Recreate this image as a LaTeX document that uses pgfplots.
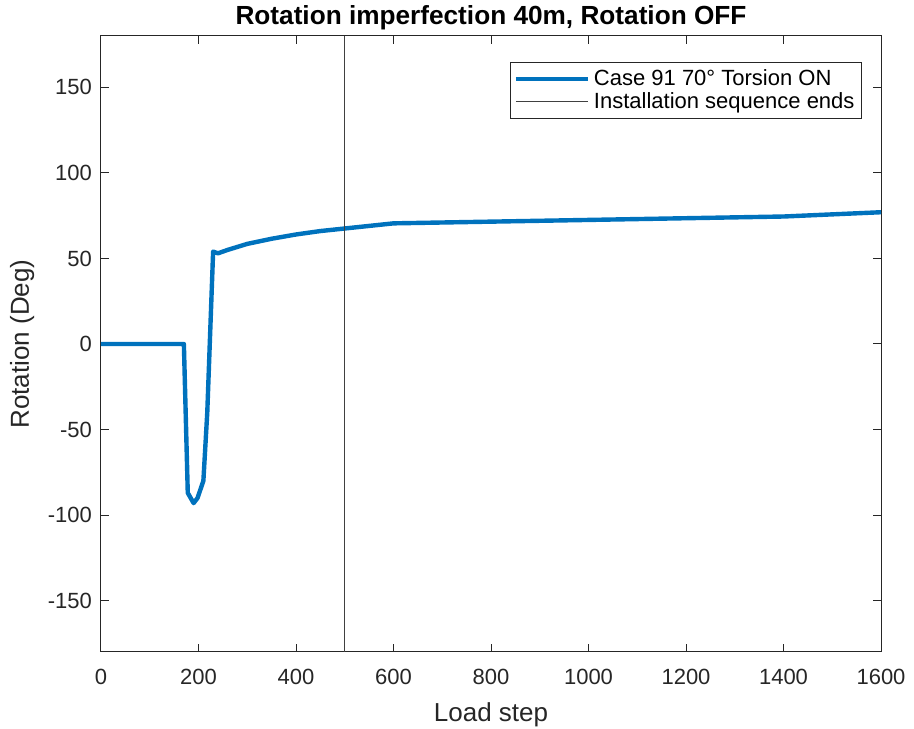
\documentclass[border=0pt]{standalone}
\usepackage{fontspec}
\setmainfont{Liberation Sans}
\usepackage{pgfplots}
\pgfplotsset{compat=1.18}
\definecolor{mblue}{rgb}{0,0.447,0.741}
\definecolor{axgray}{rgb}{0.15,0.15,0.15}

\pgfplotstableread{
x y
0 0
170 0
178 -87
190 -93
198 -90
210 -80
218 -40
230 54
240 53
260 55
300 58.5
350 61.5
400 64
450 66
500 67.5
600 70.5
1000 72.5
1400 74.5
1600 77
}\rotdata

\begin{document}
\begin{tikzpicture}
\begin{axis}[
  scale only axis,
  width=390pt, height=308pt,
  xmin=0, xmax=1600, ymin=-180, ymax=180,
  xtick={0,200,...,1600},
  ytick={-150,-100,...,150},
  tick align=inside,
  major tick length=4pt,
  axis line style={axgray, line width=0.5pt},
  every tick/.style={axgray, line width=0.5pt},
  /pgf/number format/assume math mode=true,
  /pgf/number format/set thousands separator={},
  tick label style={font=\fontsize{11}{13}\selectfont, text=axgray},
  xticklabel style={yshift=-5pt},
  yticklabel style={xshift=-1pt},
  xlabel={Load step},
  ylabel={Rotation (Deg)},
  label style={font=\fontsize{13}{15}\selectfont, text=axgray},
  xlabel style={yshift=-2pt},
  title={Rotation imperfection 40m, Rotation OFF},
  title style={font=\bfseries\fontsize{13.1}{15}\selectfont, at={(0.5,1)}, anchor=base, yshift=-0.5pt},
  legend cell align=left,
  legend style={at={(1,1)}, anchor=north east, xshift=-9.5pt, yshift=-13pt,
    font=\fontsize{11}{13}\selectfont, draw=axgray, line width=0.5pt,
    inner sep=1.5pt, row sep=-2pt},
  legend image code/.code={\draw[#1] (0pt,0pt) -- (36pt,0pt);},
]
\addplot[mblue, line width=2.2pt, line join=round] table[x=x, y=y] {\rotdata};
\addlegendentry{Case 91 70° Torsion ON}
\addplot[black!75, line width=0.5pt] coordinates {(500,-180) (500,180)};
\addlegendentry{Installation sequence ends}
\end{axis}
\pgfresetboundingbox
\path[use as bounding box] ([xshift=-50.5pt,yshift=-38.5pt]current axis.south west) rectangle ([xshift=16.5pt,yshift=18pt]current axis.north east);
\end{tikzpicture}
\end{document}
